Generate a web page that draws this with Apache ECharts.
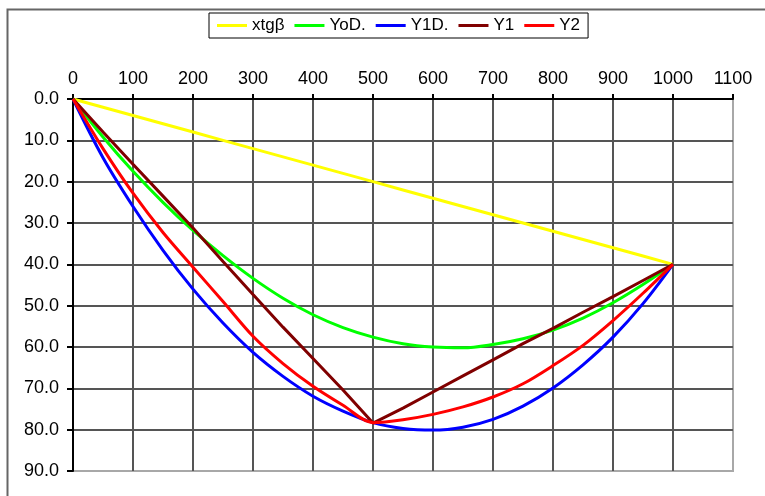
<!DOCTYPE html>
<html>
<head>
<meta charset="utf-8">
<script src="https://cdn.jsdelivr.net/npm/echarts@6/dist/echarts.min.js"></script>
<style>
  html, body { margin: 0; padding: 0; background: #fff; }
  #chart { width: 765px; height: 496px; }
</style>
</head>
<body>
<div id="chart"></div>
<script>
// x positions of the points
var xs = [0, 50, 100, 150, 200, 250, 300, 350, 400, 450, 500, 550, 600, 650, 700, 750, 800, 850, 900, 950, 1000];
// series values
var xtg = [0, 2, 4, 6, 8, 10, 12, 14, 16, 18, 20, 22, 24, 26, 28, 30, 32, 34, 36, 38, 40];
var yoD = [0, 9.2, 17.5, 25, 31.8, 37.9, 43.4, 48.2, 52.2, 55.3, 57.6, 59.2, 60, 60.2, 59.4, 58, 55.9, 53, 49.3, 44.9, 40];
var y1D = [0, 14.2, 26, 36.6, 46, 54.2, 61.3, 67.1, 71.9, 75.5, 78.3, 79.7, 80.1, 79.4, 77.5, 74.3, 69.9, 64.3, 57.6, 49.5, 40];
var y1 = [0, 8, 15.8, 23.5, 31.2, 39.3, 47.3, 55.2, 62.8, 70.4, 78.4, 74.8, 70.9, 67, 63.1, 59.2, 55.5, 51.6, 47.8, 43.9, 40];
var y2 = [0, 12, 22.8, 32.3, 40.7, 49, 57.4, 64, 69.5, 74.1, 78.3, 77.6, 76.3, 74.5, 72.1, 68.9, 64.5, 59.6, 53.6, 47, 40];
// x tick labels / legend
var names = ['xtgβ', 'YoD.', 'Y1D.', 'Y1', 'Y2'];
var colors = ['#ffff00', '#00ff00', '#0000ff', '#800000', '#ff0000'];

function pairs(ys) {
  return xs.map(function (x, i) { return [x, ys[i]]; });
}

(function () {
  var myChart = echarts.init(document.getElementById('chart'));
  var font = 'Liberation Sans, Arial, sans-serif';
  var lines = [xtg, yoD, y1D, y1, y2];
  var smooths = [false, 0.35, 0.35, false, 0.3];

  var option = {
    animation: false,
    color: colors,
    textStyle: { fontFamily: font },
    // outer chart frame
    graphic: [
      {
        type: 'rect',
        left: 5, top: 7,
        shape: { width: 800, height: 600 },
        style: { fill: 'none', stroke: '#666', lineWidth: 2 },
        silent: true
      }
    ],
    legend: {
      data: names,
      left: 209,
      top: 13,
      icon: 'rect',
      itemWidth: 30,
      itemHeight: 3,
      itemGap: 10,
      padding: [4, 8],
      borderColor: '#000',
      borderWidth: 1,
      textStyle: { fontSize: 17, color: '#000', fontFamily: font }
    },
    grid: {
      left: 73,
      top: 99,
      right: 32,
      bottom: 25,
      show: true,
      borderColor: '#a8a8a8',
      borderWidth: 2
    },
    xAxis: {
      type: 'value',
      position: 'top',
      min: 0,
      max: 1100,
      interval: 100,
      axisLine: { onZero: false, lineStyle: { color: '#000', width: 2 } },
      axisTick: { show: true, length: 5, lineStyle: { color: '#000', width: 2 } },
      axisLabel: {
        color: '#000',
        fontSize: 18,
        margin: 11,
        formatter: function (v) { return String(v); }
      },
      splitLine: { show: true, showMaxLine: false, lineStyle: { color: '#555', width: 2 } }
    },
    yAxis: {
      type: 'value',
      inverse: true,
      min: 0,
      max: 90,
      interval: 10,
      axisLine: { show: true, onZero: false, lineStyle: { color: '#000', width: 2 } },
      axisTick: { show: true, length: 6, lineStyle: { color: '#000', width: 2 } },
      axisLabel: {
        color: '#000',
        fontSize: 18,
        margin: 14,
        formatter: function (v) { return v.toFixed(1); }
      },
      splitLine: { show: true, showMaxLine: false, lineStyle: { color: '#555', width: 2 } }
    },
    series: lines.map(function (ys, i) {
      return {
        name: names[i],
        type: 'line',
        data: pairs(ys),
        smooth: smooths[i],
        showSymbol: false,
        symbol: 'none',
        lineStyle: { width: 3, color: colors[i] },
        itemStyle: { color: colors[i] }
      };
    })
  };

  myChart.setOption(option);
  window.addEventListener('resize', function () {
    myChart.resize();
  });
})();
</script>
</body>
</html>
